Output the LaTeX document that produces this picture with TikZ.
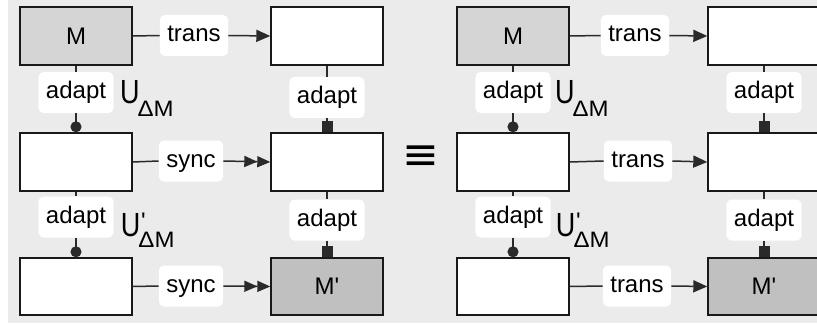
\documentclass[tikz,border=0pt]{standalone}
\usepackage{fontspec}
\setmainfont{Liberation Sans}
\newfontfamily\symfont{DejaVu Sans}
\usetikzlibrary{arrows.meta}
\definecolor{bgc}{HTML}{EBEBEB}
\definecolor{mfill}{HTML}{D5D5D5}
\definecolor{mpfill}{HTML}{C0C0C0}
\definecolor{linec}{HTML}{2A2A2A}
\newcommand{\Ubig}{\scalebox{1}[1.24]{\fontsize{27}{30}\selectfont U}}
\newcommand{\Dsub}[1]{\raisebox{#1}{\scalebox{1}[0.93]{ΔM}}}
\begin{document}
\begin{tikzpicture}[x=1pt,y=-1pt,
  every node/.style={font=\fontsize{24}{28}\selectfont},
  boxnode/.style={draw=black!90, line width=1.4pt, fill=white, minimum width=112pt, minimum height=58pt, inner sep=0pt},
  lbl/.style={fill=white, rounded corners=5pt, inner xsep=7.5pt, inner ysep=0pt, minimum height=41pt, text height=17pt, text depth=5pt},
  conn/.style={draw=linec, line width=1.5pt},
  tr/.style={conn, -{Triangle[length=14pt,width=12pt]}},
  sy/.style={conn, -{Triangle[length=13pt,width=11pt]Triangle[length=13pt,width=11pt]}},
  dotend/.style={conn, -{Circle[length=11pt]}},
  sqend/.style={conn, -{Square[length=11pt,width=11pt]}},
  ulab/.style={anchor=base west, inner sep=0pt}]
\useasboundingbox (0,0) rectangle (817,329);
\clip (0,0) rectangle (817,329);
\fill[white] (0,0) rectangle (817,329);
\fill[bgc] (8,0) rectangle (830,323);

% ---------- left diagram ----------
\node[boxnode, fill=mfill] (A1) at (76,36) {M};
\node[boxnode] (B1) at (327,36) {};
\node[boxnode] (A2) at (76,162) {};
\node[boxnode] (B2) at (327,162) {};
\node[boxnode, minimum height=57pt] (A3) at (76,286.5) {};
\node[boxnode, minimum height=57pt, fill=mpfill] (B3) at (327,286.5) {M\textquotesingle};

\node[lbl] (t1) at (194,35.5) {trans};
\node[lbl] (s1) at (191,161) {sync};
\node[lbl] (s2) at (191,286) {sync};
\node[lbl] (a1) at (76,92.5) {adapt};
\node[lbl] (b1) at (327,97.5) {adapt};
\node[lbl] (a2) at (76,217) {adapt};
\node[lbl] (b2) at (327,220) {adapt};

\draw[conn] (A1.east) -- (t1.west);
\draw[tr] (t1.east) -- (B1.west);
\draw[conn] (A2.east) -- (s1.west);
\draw[sy] (s1.east) -- (B2.west);
\draw[conn] (A3.east) -- (s2.west);
\draw[sy] (s2.east) -- (B3.west);
\draw[conn] (A1.south) -- (a1.north);
\draw[dotend] (a1.south) -- (A2.north);
\draw[conn] (B1.south) -- (b1.north);
\draw[sqend] (b1.south) -- (B2.north);
\draw[conn] (A2.south) -- (a2.north);
\draw[dotend] (a2.south) -- (A3.north);
\draw[conn] (B2.south) -- (b2.north);
\draw[sqend] (b2.south) -- (B3.north);

\node[ulab] (u1) at (119.8,103.5) {\Ubig\kern-1.8pt\Dsub{-12.5pt}};
\node[ulab] (u2) at (120.6,236) {\Ubig\kern-1.8pt\rlap{\hspace{2.6pt}\raisebox{6.3pt}{\textquotesingle}}\Dsub{-11.5pt}};

% ---------- equivalence ----------
\node[inner sep=0pt, font=\symfont\fontsize{44}{48}\selectfont] (eq) at (420.5,158) {≡};

% ---------- right diagram ----------
\node[boxnode, fill=mfill] (C1) at (513,36) {M};
\node[boxnode] (D1) at (764,36) {};
\node[boxnode] (C2) at (513,162) {};
\node[boxnode] (D2) at (764,162) {};
\node[boxnode, minimum height=57pt] (C3) at (513,286.5) {};
\node[boxnode, minimum height=57pt, fill=mpfill] (D3) at (764,286.5) {M\textquotesingle};

\node[lbl] (t2) at (635,35.5) {trans};
\node[lbl] (t3) at (638,161) {trans};
\node[lbl] (t4) at (637,286) {trans};
\node[lbl] (c1) at (513,92.5) {adapt};
\node[lbl] (d1) at (764,92.5) {adapt};
\node[lbl] (c2) at (513,217) {adapt};
\node[lbl] (d2) at (764,220) {adapt};

\draw[conn] (C1.east) -- (t2.west);
\draw[tr] (t2.east) -- (D1.west);
\draw[conn] (C2.east) -- (t3.west);
\draw[tr] (t3.east) -- (D2.west);
\draw[conn] (C3.east) -- (t4.west);
\draw[tr] (t4.east) -- (D3.west);
\draw[conn] (C1.south) -- (c1.north);
\draw[dotend] (c1.south) -- (C2.north);
\draw[conn] (D1.south) -- (d1.north);
\draw[sqend] (d1.south) -- (D2.north);
\draw[conn] (C2.south) -- (c2.north);
\draw[dotend] (c2.south) -- (C3.north);
\draw[conn] (D2.south) -- (d2.north);
\draw[sqend] (d2.south) -- (D3.north);

\node[ulab] (u3) at (554.8,103.5) {\Ubig\kern-1.8pt\Dsub{-12.5pt}};
\node[ulab] (u4) at (555.6,236) {\Ubig\kern-1.8pt\rlap{\hspace{2.6pt}\raisebox{6.3pt}{\textquotesingle}}\Dsub{-11.5pt}};
\end{tikzpicture}
\end{document}
